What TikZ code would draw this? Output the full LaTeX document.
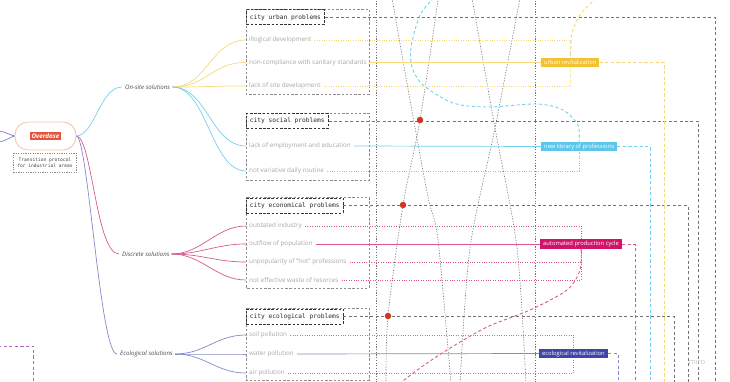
\documentclass[tikz,border=0pt]{standalone}
\usepackage{fontspec}
\setmainfont{Open Sans}
\newfontfamily\monof{DejaVu Sans Mono}
\definecolor{cyanL}{HTML}{74D0EE}
\definecolor{cyanF}{HTML}{5CC7EA}
\definecolor{yelL}{HTML}{F6D87A}
\definecolor{yelF}{HTML}{F2C230}
\definecolor{magL}{HTML}{D8588F}
\definecolor{magF}{HTML}{D31369}
\definecolor{vioL}{HTML}{8489CC}
\definecolor{vioF}{HTML}{3E45A6}
\definecolor{redO}{HTML}{E5533B}
\definecolor{peach}{HTML}{F3C6AE}
\definecolor{dotred}{HTML}{D2371E}
\definecolor{txtg}{HTML}{A6A6A6}
\definecolor{purpL}{HTML}{A565BE}
\definecolor{blueL}{HTML}{6A86C8}
\begin{document}
\begin{tikzpicture}[x=1pt,y=-1pt,
  item/.style={anchor=west, inner sep=0pt, text=txtg, font=\fontsize{6.3}{7}\selectfont},
  sol/.style={anchor=west, inner sep=0pt, text=black!70, font=\fontsize{6.1}{7}\selectfont\itshape},
  hdr/.style={anchor=north west, draw=black!80, line width=0.9pt, dash pattern=on 2.6pt off 1.6pt, inner xsep=3.5pt, inner ysep=0pt, minimum height=15pt, font=\monof\fontsize{6.2}{7}\selectfont, text=black!85},
  lbl/.style={anchor=west, inner xsep=3pt, inner ysep=2pt, text=white, font=\fontsize{5.8}{6}\selectfont},
  grp/.style={draw=black!45, line width=0.6pt, dash pattern=on 2.4pt off 1.8pt},
  gdot/.style={draw=black!55, line width=0.6pt, dash pattern=on 1.2pt off 1.5pt},
  gdash/.style={draw=black!55, line width=0.8pt, dash pattern=on 3pt off 2.4pt},
  cdot/.style={line width=0.7pt, dash pattern=on 0.9pt off 1.5pt},
  cdash/.style={line width=0.9pt, dash pattern=on 3.2pt off 2.4pt},
  br/.style={line width=0.7pt},
  rdot/.style={circle, fill=dotred, inner sep=0pt, minimum size=6.5pt},
]
\useasboundingbox (0,0) rectangle (730,382);

% ---------- free end coordinates ----------
\coordinate (ye) at (664,384);
\coordinate (ce) at (650,384);
\coordinate (me) at (635,384);
\coordinate (ve) at (618,384);
\coordinate (g1) at (715,384);
\coordinate (g2) at (698.5,384);
\coordinate (g3) at (688,384);
\coordinate (g4) at (674,384);
\coordinate (pb1) at (-2,346);
\coordinate (pb2) at (33.5,384);

% ---------- gray guide lines ----------
\draw[gdot] (376,-2) -- (376,384);
\draw[gdot] (535,-2) -- (535,384);
\draw[gdot] plot[smooth] coordinates {(392,-2) (410,100) (428,197) (438,240) (451,384)};
\draw[gdot] plot[smooth] coordinates {(438.3,-2) (420,120) (403,205) (388,316) (386,384)};
\draw[gdot] plot[smooth] coordinates {(472,-2) (495,128) (517,248) (526,384)};
\draw[gdot] plot[smooth] coordinates {(520,-2) (495,128) (470,248) (460,384)};

% ---------- root ----------
\node[draw=peach, line width=0.9pt, rounded corners=13pt, minimum width=61pt, minimum height=28pt, inner sep=0pt] (pill) at (45.5,136) {};
\node[fill=redO, text=white, font=\fontsize{6.3}{7}\selectfont\bfseries\itshape, inner xsep=2pt, inner ysep=2pt] (od) at (pill.center) {Overdose};
\node[draw=black!45, dash pattern=on 1.2pt off 1.2pt, line width=0.5pt, align=center, font=\monof\fontsize{4.6}{6}\selectfont, text=black!75, minimum width=63pt, minimum height=19pt, inner sep=1pt] (tp) at (45,163) {Transition protocol\\for industrial areas};

\draw[purpL, br] (-1,131) .. controls (6,132) and (10,135) .. (pill.west);
\draw[blueL, br] (-1,142) .. controls (6,141) and (10,137) .. (pill.west);
\draw[purpL, cdash] (pb1) -| (pb2);

% ---------- solutions ----------
\node[sol] (os) at (125,87) {On-site solutions};
\node[sol] (ds) at (122,254) {Discrete solutions};
\node[sol] (es) at (120,354) {Ecological solutions};

\draw[cyanL, br] (pill.east) .. controls (95,135) and (100,87) .. ([xshift=-3pt]os.west);
\draw[magL, br] (pill.east) .. controls (92,137) and (96,254) .. ([xshift=-3pt]ds.west);
\draw[vioL, br] (pill.east) .. controls (88,137) and (100,354) .. ([xshift=-3pt]es.west);

% ---------- groups ----------
\draw[grp] (246,9) rectangle (369,94);
\draw[grp] (246,113) rectangle (369,180);
\draw[grp] (246,197) rectangle (369,288);
\draw[grp] (246,308) rectangle (369,380);

\node[hdr] (H1) at (246,9.5) {city urban problems};
\node[hdr] (H2) at (246,113) {city social problems};
\node[hdr] (H3) at (246,197.5) {city economical problems};
\node[hdr] (H4) at (246,308.5) {city ecological problems};

\node[item] (u1) at (249,40) {illogical development};
\node[item] (u2) at (249,62.5) {non-compliance with sanitary standards};
\node[item] (u3) at (249,86) {lack of site development};
\node[item] (s1) at (249,146) {lack of employment and education};
\node[item] (s2) at (249,171) {not variative daily routine};
\node[item] (e1) at (249,226) {outdated industry};
\node[item] (e2) at (249,244) {outflow of population};
\node[item] (e3) at (249,262) {unpopularity of “hot” professions};
\node[item] (e4) at (249,280) {not effective waste of resorces};
\node[item] (c1) at (249,335) {soil pollution};
\node[item] (c2) at (249,354) {water pollution};
\node[item] (c3) at (249,373) {air pollution};

\foreach \t in {u1,u2,u3} \draw[yelL, br] ([xshift=2pt]os.east) .. controls +(35,0) and +(-35,0) .. ([xshift=-3pt]\t.west);
\foreach \t in {s1,s2} \draw[cyanL, br] ([xshift=2pt]os.east) .. controls +(35,0) and +(-35,0) .. ([xshift=-3pt]\t.west);
\foreach \t in {e1,e2,e3,e4} \draw[magL, br] ([xshift=2pt]ds.east) .. controls +(30,0) and +(-30,0) .. ([xshift=-3pt]\t.west);
\foreach \t in {c1,c2,c3} \draw[vioL, br] ([xshift=2pt]es.east) .. controls +(30,0) and +(-30,0) .. ([xshift=-3pt]\t.west);

% ---------- solution labels ----------
\node[lbl, fill=yelF] (UR) at (541,62.5) {urban revitalization};
\node[lbl, fill=cyanF] (NL) at (541,146.5) {new library of professions};
\node[lbl, fill=magF] (AP) at (540,244) {automated production cycle};
\node[lbl, fill=vioF] (ER) at (539,353.5) {ecological revitalization};

% header connectors
\draw[gdash] (H1.east) -| (g1);
\draw[gdash] (H2.east) -| (g2);
\draw[gdash] (H3.east) -| (g3);
\draw[gdash] (H4.east) -| (g4);

% yellow
\draw[yelL, br] ([xshift=2pt]u2.east) -- (UR.west);
\draw[yelL, cdot] ([xshift=3pt]u1.east) -| (UR.north);
\draw[yelL, cdot] ([xshift=3pt]u3.east) -| (UR.south);
\draw[yelL, cdash] (UR.east) -| (ye);
\draw[yelL, cdash] plot[smooth] coordinates {(596,-2) (580,15) (572,33) (571,45) (UR.north)};
% cyan
\draw[cyanL, br] ([xshift=3pt]s1.east) -- (NL.west);
\draw[cyanL, cdot] ([xshift=3pt]s2.east) -| (NL.south);
\draw[cyanL, cdash] (NL.east) -| (ce);
\draw[cyanL, cdash] plot[smooth] coordinates {(434,-2) (420,15) (411,47) (412,67) (423,85) (453,103) (487,107) (537,104) (563,110) (578,125) (NL.north)};
% magenta
\draw[magL, br] ([xshift=3pt]e2.east) -- (AP.west);
\draw[magL, cdot] ([xshift=3pt]e1.east) -| (AP.north);
\draw[magL, cdot] ([xshift=3pt]e3.east) -| (AP.south);
\draw[magL, cdot] ([xshift=3pt]e4.east) -| (AP.south);
\draw[magL, cdash] (AP.east) -| (me);
\draw[magL, cdash] plot[smooth] coordinates {(AP.south) (580,270) (567,290) (530,310) (487,327) (447,350) (420,368) (399,384)};
% violet
\draw[vioL, br] ([xshift=3pt]c2.east) -- (ER.west);
\draw[vioL, cdot] ([xshift=3pt]c1.east) -| (ER.north);
\draw[vioL, cdot] ([xshift=3pt]c3.east) -| (ER.south);
\draw[vioL, cdash] (ER.east) -| (ve);

% red dots
\node[rdot] (d1) at (420,120) {};
\node[rdot] (d2) at (403,205) {};
\node[rdot] (d3) at (388,316) {};

\node[text=black!22, font=\fontsize{7.5}{8}\selectfont, inner sep=0pt] (miro) at (697,362) {miro};
\end{tikzpicture}
\end{document}
